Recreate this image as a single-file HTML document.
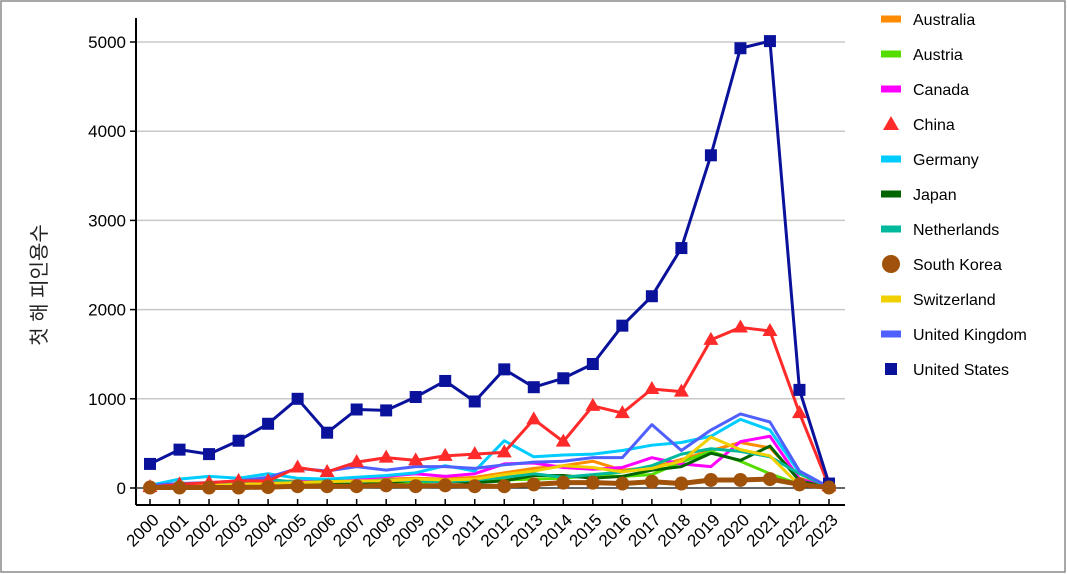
<!DOCTYPE html>
<html><head><meta charset="utf-8"><style>
body{margin:0;background:#fff;}
svg{display:block;font-family:"Liberation Sans","Noto Sans CJK KR",sans-serif;}
</style></head><body>
<svg id="chart" width="1067" height="574">
<rect x="1" y="1" width="1064" height="571" fill="#fff" stroke="#8a8a8a" stroke-width="1.5"/>
<g id="grid"></g><g id="axes"></g><g id="series"></g><g id="legend"></g>
<text x="46" y="285" font-size="20" fill="#222" text-anchor="middle" transform="rotate(-90 46 285)">첫 해 피인용수</text>
</svg>
<script>
const years=["2000","2001","2002","2003","2004","2005","2006","2007","2008","2009","2010","2011","2012","2013","2014","2015","2016","2017","2018","2019","2020","2021","2022","2023"];
const yTicks=[0,1000,2000,3000,4000,5000];
const seriesNames=["Australia","Austria","Canada","China","Germany","Japan","Netherlands","South Korea","Switzerland","United Kingdom","United States"];
const australia=[10,30,60,70,70,80,70,70,100,110,100,120,170,220,250,300,200,230,320,420,510,450,110,10];
const austria=[10,10,20,30,50,40,30,50,50,60,80,90,90,100,110,140,130,150,290,410,300,160,40,5];
const canada=[20,30,40,50,60,70,80,100,130,160,130,160,270,280,230,210,230,340,270,240,520,580,100,10];
const china=[10,40,60,80,80,230,180,290,340,310,360,380,400,770,520,920,840,1110,1080,1660,1800,1760,840,20];
const germany=[30,100,130,110,160,110,100,120,140,170,250,190,530,350,370,380,420,480,510,580,770,650,170,10];
const japan=[10,20,30,30,40,50,50,60,60,90,80,60,80,140,140,110,130,200,240,390,310,470,80,5];
const netherlands=[10,20,30,50,100,60,80,70,90,80,70,90,120,160,120,150,180,250,380,440,410,350,160,10];
const southKorea=[5,5,5,5,10,20,20,20,30,20,30,20,20,40,60,60,50,70,50,90,90,100,40,5];
const switzerland=[10,20,30,40,50,60,70,80,80,100,90,100,150,190,250,230,180,220,300,570,430,360,30,5];
const unitedKingdom=[30,50,60,80,120,220,190,240,200,240,240,220,260,290,300,340,340,710,420,650,830,740,190,10];
const unitedStates=[270,430,380,530,720,1000,620,880,870,1020,1200,970,1330,1130,1230,1390,1820,2150,2690,3730,4930,5010,1100,50];
const allData=[australia,austria,canada,china,germany,japan,netherlands,southKorea,switzerland,unitedKingdom,unitedStates];
const colors=["#ff8c00","#55dd00","#ff00ff","#ff2a2a","#00ccff","#006400","#00b89c","#a0520a","#f0d000","#5060ff","#0a129c"];
const markers=[null,null,null,"tri",null,null,null,"circle",null,null,"square"];
const NS="http://www.w3.org/2000/svg";
const X0=150,X1=829,Y0=488,Y5=42;
const xs=i=>X0+(X1-X0)*i/(years.length-1);
const ys=v=>Y0-(Y0-Y5)*v/5000;
function mk(p,t,a){const e=document.createElementNS(NS,t);for(const k in a)e.setAttribute(k,a[k]);p.appendChild(e);return e;}
const grid=document.getElementById('grid'),axes=document.getElementById('axes'),ser=document.getElementById('series'),leg=document.getElementById('legend');
yTicks.forEach(v=>{
 if(v>0){const g=mk(grid,'line',{x1:136,x2:845,y1:ys(v),y2:ys(v),stroke:'#c8c8c8','stroke-width':1.5});
 
 }
 mk(axes,'line',{x1:130,x2:136,y1:ys(v),y2:ys(v),stroke:'#000','stroke-width':1.5});
 const t=mk(axes,'text',{x:126,y:ys(v)+6,'text-anchor':'end','font-size':17,fill:'#000'});t.textContent=v;
 
 
});
mk(axes,'line',{x1:136,x2:136,y1:18,y2:505,stroke:'#000','stroke-width':2});
mk(axes,'line',{x1:136,x2:845,y1:505,y2:505,stroke:'#000','stroke-width':2});
mk(axes,'line',{x1:136,x2:845,y1:Y0,y2:Y0,stroke:'#333','stroke-width':1.5});
years.forEach((y,i)=>{
 mk(axes,'line',{x1:xs(i),x2:xs(i),y1:505,y2:499,stroke:'#000','stroke-width':1.5});
 const t=mk(axes,'text',{x:xs(i)+10,y:521,'text-anchor':'end','font-size':17,fill:'#000',transform:`rotate(-45 ${xs(i)+10} 521)`});t.textContent=y;
 
 
});
const order=[0,1,2,4,5,6,8,9,3,10,7];
order.forEach(s=>{
 const d=allData[s];const pts=d.map((v,i)=>xs(i)+','+ys(v)).join(' ');
 const g=mk(ser,'g',{});
 
 
 mk(g,'polyline',{points:pts,fill:'none',stroke:colors[s],'stroke-width':s==7?5:3,'stroke-linejoin':'round'});
 d.forEach((v,i)=>{const x=xs(i),y=ys(v);let m=null;
  if(markers[s]=='square')m=mk(g,'rect',{x:x-6,y:y-6,width:12,height:12,fill:colors[s]});
  else if(markers[s]=='tri')m=mk(g,'polygon',{points:`${x},${y-8} ${x-7.5},${y+5} ${x+7.5},${y+5}`,fill:colors[s]});
  else if(markers[s]=='circle')m=mk(g,'circle',{cx:x,cy:y,r:7,fill:colors[s]});
  if(m){
  }
 });
});
seriesNames.forEach((n,s)=>{
 const y=19+35*s;const g=mk(leg,'g',{});
 
 
 if(markers[s]=='square')mk(g,'rect',{x:885,y:y-6,width:12,height:12,fill:colors[s]});
 else if(markers[s]=='tri')mk(g,'polygon',{points:`891,${y-8} 883,${y+6} 899,${y+6}`,fill:colors[s]});
 else if(markers[s]=='circle')mk(g,'circle',{cx:891,cy:y,r:9,fill:colors[s]});
 else mk(g,'rect',{x:881,y:y-3.5,width:20,height:7,fill:colors[s]});
 const t=mk(g,'text',{x:913,y:y+6,'font-size':16,fill:'#000'});t.textContent=n;
});
</script>
</body></html>
